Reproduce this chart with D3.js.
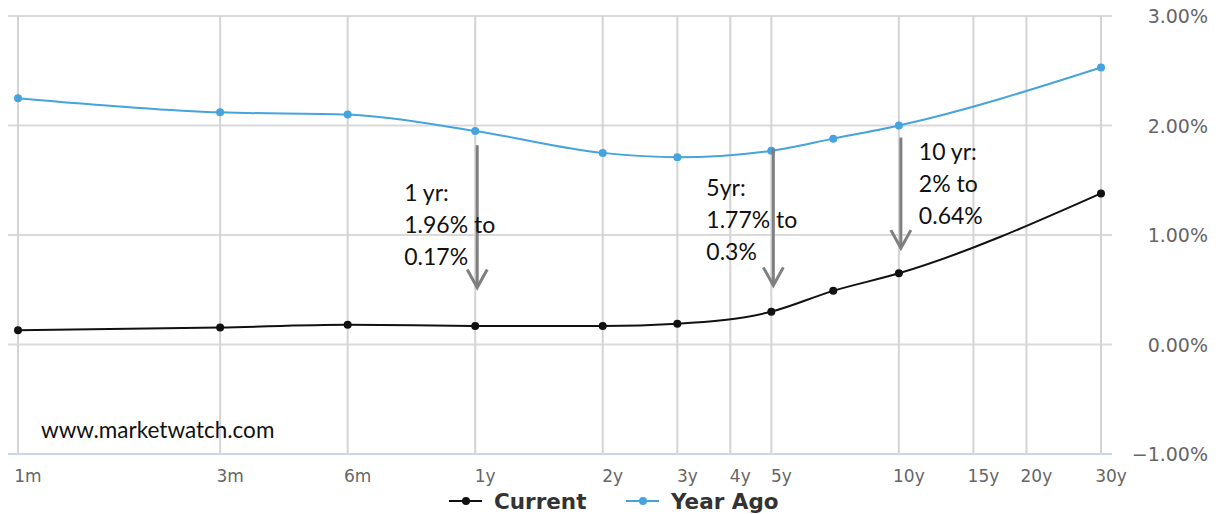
<!DOCTYPE html>
<html>
<head>
<meta charset="utf-8">
<script src="https://cdn.jsdelivr.net/npm/d3@7"></script>
<style>
  body { margin: 0; background: #fff; }
  svg { display: block; }
  .tick-label { font-family: "DejaVu Sans", sans-serif; fill: #666; }
  .note { font-family: "Lato", "Open Sans", sans-serif; fill: #111; }
</style>
</head>
<body>
<svg id="chart" width="1223" height="514"></svg>
<script>
var width = 1223;
var height = 514;

// x axis ticks, maturity in months
var tickLabels = ["1m", "3m", "6m", "1y", "2y", "3y", "4y", "5y", "10y", "15y", "20y", "30y"];
var tickMonths = [1, 3, 6, 12, 24, 36, 48, 60, 120, 180, 240, 360];

// maturities that have a point on the curves
var pointMonths = [1, 3, 6, 12, 24, 36, 60, 84, 120, 360];
var currentYield = [0.13, 0.155, 0.18, 0.17, 0.17, 0.19, 0.30, 0.49, 0.65, 1.38];
var yearAgoYield = [2.25, 2.12, 2.10, 1.95, 1.75, 1.71, 1.77, 1.88, 2.00, 2.53];

var yTicks = [-1, 0, 1, 2, 3];

// notes drawn over the chart: maturity, arrow top/bottom (in %), text lines
var noteMonths = [12, 60, 120];
var noteLines = [
    ["1 yr:", "1.96% to", "0.17%"],
    ["5yr:", "1.77% to", "0.3%"],
    ["10 yr:", "2% to", "0.64%"]
];
var arrowFrom = [1.82, 1.79, 1.89];
var arrowTo = [0.52, 0.54, 0.88];

var currentColor = "#111111";
var yearAgoColor = "#45a3de";

var svg = d3.select("#chart");

var x = d3.scaleLog().domain([1, 360]).range([18, 1101]);
var y = d3.scaleLinear().domain([-1, 3]).range([454, 16]);

/*====================================================================
       grid
    ==================================================================*/
var grid = svg.append("g");

grid.selectAll(".hgrid")
    .data(yTicks.filter(function (d) { return d > -1; }))
    .enter().append("line")
    .attr("x1", 8).attr("x2", 1112)
    .attr("y1", function (d) { return y(d); })
    .attr("y2", function (d) { return y(d); })
    .attr("stroke", "#dadada")
    .attr("stroke-width", 2);

grid.selectAll(".vgrid")
    .data(tickMonths)
    .enter().append("line")
    .attr("x1", function (d) { return x(d); })
    .attr("x2", function (d) { return x(d); })
    .attr("y1", y(3)).attr("y2", y(-1))
    .attr("stroke", "#d4d4d4")
    .attr("stroke-width", 2);

// bottom axis line
grid.append("line")
    .attr("x1", 8).attr("x2", 1112)
    .attr("y1", y(-1)).attr("y2", y(-1))
    .attr("stroke", "#ccd6eb")
    .attr("stroke-width", 2);

// y labels on the right
svg.append("g").selectAll("text")
    .data(yTicks)
    .enter().append("text")
    .attr("class", "tick-label")
    .attr("x", 1208)
    .attr("y", function (d) { return y(d) + 7; })
    .attr("text-anchor", "end")
    .style("font-size", "19px")
    .text(function (d) { return d3.format(".2f")(d) + "%"; });

// x labels
svg.append("g").selectAll("text")
    .data(tickMonths)
    .enter().append("text")
    .attr("class", "tick-label")
    .attr("x", function (d) { return x(d) + 10; })
    .attr("y", 482)
    .attr("text-anchor", "middle")
    .style("font-size", "17px")
    .text(function (d, i) { return tickLabels[i]; });

/*====================================================================
       series
    ==================================================================*/
var line = d3.line()
    .x(function (d) { return x(d[0]); })
    .y(function (d) { return y(d[1]); })
    .curve(d3.curveMonotoneX);

function drawSeries(values, color) {
    var pts = pointMonths.map(function (m, i) { return [m, values[i]]; });
    var g = svg.append("g");
    g.append("path")
        .datum(pts)
        .attr("d", line)
        .attr("fill", "none")
        .attr("stroke", color)
        .attr("stroke-width", 2);
    g.selectAll("circle")
        .data(pts)
        .enter().append("circle")
        .attr("cx", function (d) { return x(d[0]); })
        .attr("cy", function (d) { return y(d[1]); })
        .attr("r", 4)
        .attr("fill", color);
}

drawSeries(yearAgoYield, yearAgoColor);
drawSeries(currentYield, currentColor);

/*====================================================================
       notes + arrows
    ==================================================================*/
var notes = svg.append("g");
var textDx = [-73, -67, 18];
var textTop = [201, 196, 160];

noteMonths.forEach(function (m, i) {
    var ax = x(m) + 2;
    var y0 = y(arrowFrom[i]);
    var y1 = y(arrowTo[i]);
    notes.append("line")
        .attr("x1", ax).attr("x2", ax)
        .attr("y1", y0).attr("y2", y1 - 1)
        .attr("stroke", "#7f7f7f")
        .attr("stroke-width", 3);
    notes.append("path")
        .attr("d", "M" + (ax - 10) + "," + (y1 - 18) + "L" + ax + "," + y1 + "L" + (ax + 10) + "," + (y1 - 18))
        .attr("fill", "none")
        .attr("stroke", "#7f7f7f")
        .attr("stroke-width", 3);

    var t = notes.append("text")
        .attr("class", "note")
        .style("font-size", "23px");
    noteLines[i].forEach(function (s, k) {
        t.append("tspan")
            .attr("x", ax + textDx[i])
            .attr("y", textTop[i] + k * 32)
            .text(s);
    });
});

notes.append("text")
    .attr("class", "note")
    .attr("x", 41)
    .attr("y", 438)
    .style("font-size", "22.5px")
    .text("www.marketwatch.com");

/*====================================================================
       legend
    ==================================================================*/
var legendItems = [
    { name: "Current", color: currentColor, x: 449 },
    { name: "Year Ago", color: yearAgoColor, x: 626 }
];
var legend = svg.append("g");
legendItems.forEach(function (d) {
    legend.append("line")
        .attr("x1", d.x).attr("x2", d.x + 33)
        .attr("y1", 501).attr("y2", 501)
        .attr("stroke", d.color)
        .attr("stroke-width", 2);
    legend.append("circle")
        .attr("cx", d.x + 17).attr("cy", 501).attr("r", 4)
        .attr("fill", d.color);
    legend.append("text")
        .attr("x", d.x + 45)
        .attr("y", 509)
        .style("font-family", "DejaVu Sans, sans-serif")
        .style("font-weight", "bold")
        .style("font-size", "21.5px")
        .style("fill", "#333")
        .text(d.name);
});
</script>
</body>
</html>
